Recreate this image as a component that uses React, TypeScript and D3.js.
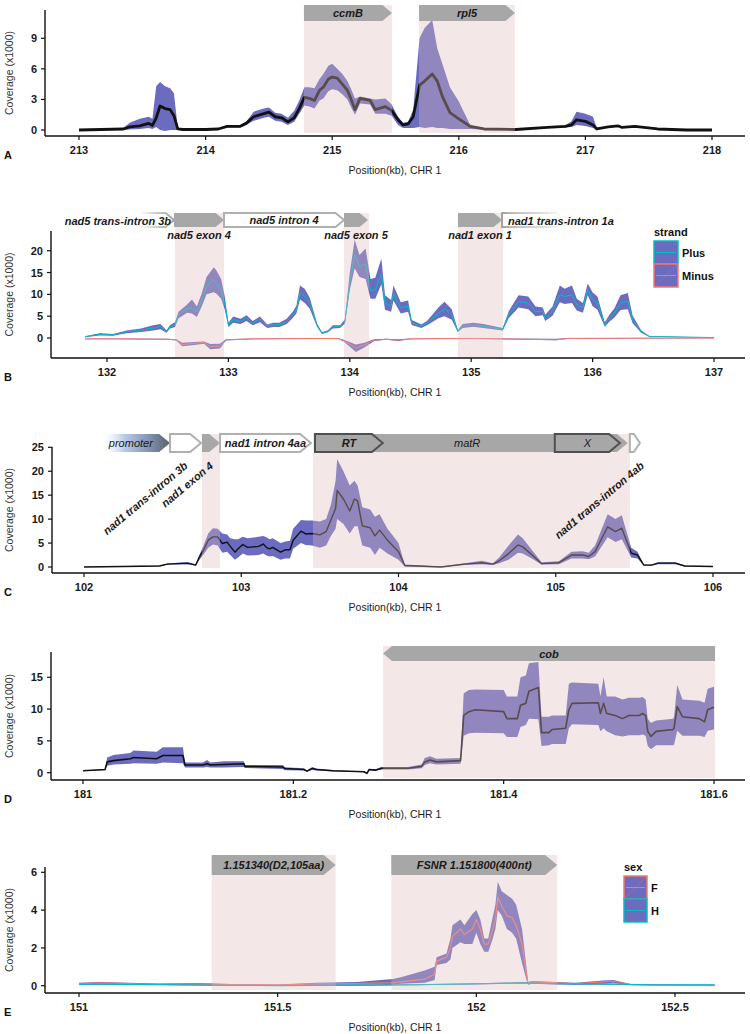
import React from 'react';
import * as d3 from 'd3';

const FONT = "'Liberation Sans', Arial, Helvetica, sans-serif";
const RIB = '#6b6bc0';
const HL = '#deb9b9';
const GRAY = '#a7a7a7';
const CYAN = '#00BFC4';
const SALMON = '#F8766D';

// ---------- Panel A ----------
const posA = [213.0, 213.35, 213.4, 213.48, 213.55, 213.58, 213.61, 213.64, 213.68, 213.72, 213.75, 213.78, 213.82, 214.0, 214.1, 214.17, 214.27, 214.32, 214.38, 214.46, 214.5, 214.55, 214.6, 214.65, 214.7, 214.74, 214.78, 214.82, 214.86, 214.9, 214.93, 214.97, 215.0, 215.04, 215.08, 215.12, 215.15, 215.18, 215.22, 215.3, 215.34, 215.42, 215.47, 215.52, 215.56, 215.6, 215.64, 215.69, 215.73, 215.79, 215.83, 215.87, 215.93, 216.0, 216.09, 216.2, 216.45, 216.7, 216.84, 216.89, 216.93, 217.0, 217.06, 217.09, 217.18, 217.26, 217.29, 217.39, 217.57, 217.8, 218.0];
const meanA = [0, 0.1, 0.3, 0.4, 0.65, 0.45, 1.2, 2.35, 2.1, 2.0, 1.4, 0.1, 0.05, 0.05, 0.1, 0.35, 0.35, 0.65, 1.3, 1.6, 1.75, 1.3, 1.2, 0.8, 1.2, 2.1, 3.2, 3.1, 2.9, 3.9, 4.2, 5.0, 5.2, 5.1, 4.5, 3.9, 3.0, 2.0, 3.1, 2.9, 2.0, 2.3, 1.9, 1.0, 0.5, 0.6, 1.3, 4.4, 4.8, 5.5, 4.8, 3.3, 1.7, 1.1, 0.35, 0.1, 0.05, 0.25, 0.35, 0.5, 1.0, 0.85, 0.5, 0.1, 0.3, 0.4, 0.25, 0.35, 0.1, 0.0, 0.0];
const hiA = [0, 0.2, 0.7, 1.1, 1.3, 1.1, 4.3, 4.7, 4.3, 4.1, 3.6, 0.2, 0.1, 0.1, 0.15, 0.45, 0.45, 0.8, 1.8, 2.1, 2.2, 1.7, 1.6, 1.2, 1.9, 2.9, 4.2, 4.2, 4.1, 5.0, 5.5, 6.3, 6.5, 6.0, 5.5, 4.8, 4.0, 3.1, 3.3, 3.1, 3.0, 3.1, 2.5, 1.3, 0.7, 0.8, 2.0, 9.0, 10.0, 10.8, 8.0, 6.5, 4.2, 2.8, 0.5, 0.15, 0.1, 0.3, 0.45, 0.85, 1.8, 1.6, 1.3, 0.2, 0.35, 0.45, 0.3, 0.4, 0.15, 0.05, 0.05];
const loA = [0, 0.0, 0.05, 0.1, 0.2, 0.1, 0.3, 0.0, -0.1, 0.0, 0.0, 0.0, 0.0, 0.0, 0.05, 0.25, 0.25, 0.5, 0.9, 1.2, 1.3, 0.9, 0.8, 0.5, 0.8, 1.6, 2.4, 2.3, 2.1, 2.9, 3.1, 3.8, 4.0, 3.9, 3.5, 3.0, 2.2, 1.5, 2.6, 2.5, 1.6, 1.6, 1.4, 0.5, 0.2, 0.2, 0.2, 0.3, 0.2, 0.3, 0.2, 0.2, 0.1, 0.1, 0.1, 0.05, 0.0, 0.2, 0.25, 0.3, 0.5, 0.4, 0.2, 0.05, 0.25, 0.35, 0.2, 0.3, 0.05, 0.0, 0.0];

// ---------- Panel B ----------
const posBp = [131.82, 131.94, 132.05, 132.16, 132.28, 132.38, 132.44, 132.49, 132.52, 132.56, 132.59, 132.66, 132.7, 132.74, 132.78, 132.82, 132.88, 132.9, 132.94, 132.97, 133.0, 133.04, 133.1, 133.15, 133.2, 133.26, 133.32, 133.37, 133.42, 133.48, 133.53, 133.56, 133.59, 133.63, 133.67, 133.73, 133.77, 133.82, 133.86, 133.92, 133.96, 134.0, 134.04, 134.08, 134.13, 134.17, 134.21, 134.26, 134.29, 134.34, 134.36, 134.42, 134.48, 134.51, 134.59, 134.64, 134.73, 134.78, 134.84, 134.89, 134.93, 135.02, 135.1, 135.26, 135.31, 135.39, 135.47, 135.53, 135.59, 135.61, 135.67, 135.73, 135.77, 135.83, 135.87, 135.92, 135.96, 136.0, 136.04, 136.1, 136.14, 136.18, 136.23, 136.29, 136.33, 136.4, 136.47, 136.6, 137.0];
const meanBp = [0.3, 0.9, 0.7, 1.4, 1.8, 2.3, 2.6, 1.5, 2.6, 3.0, 5.3, 6.8, 6.8, 6.0, 8.7, 11.8, 13.3, 12.6, 11.0, 8.0, 3.0, 4.2, 3.8, 4.6, 3.4, 4.3, 2.7, 3.0, 3.0, 3.8, 5.3, 6.5, 10.3, 9.5, 8.0, 3.0, 1.1, 1.5, 2.5, 2.6, 3.8, 12.6, 19.1, 16.4, 17.0, 10.9, 11.0, 14.8, 8.0, 7.3, 10.3, 6.9, 7.3, 3.5, 2.7, 3.5, 5.7, 6.6, 5.4, 1.6, 2.7, 3.0, 2.7, 2.0, 5.4, 8.4, 8.0, 6.1, 6.1, 4.6, 6.1, 9.9, 9.5, 9.9, 7.6, 6.9, 11.1, 8.8, 8.0, 3.1, 4.6, 5.7, 8.0, 8.4, 4.2, 1.5, 0.3, 0.3, 0.1];
const loBp = [0.2, 0.6, 0.5, 1.1, 1.4, 1.7, 2.0, 1.2, 2.2, 2.5, 4.5, 5.8, 5.6, 4.8, 7.2, 10.0, 10.5, 10.2, 9.0, 6.5, 2.5, 3.5, 3.2, 3.9, 2.9, 3.6, 2.3, 2.5, 2.5, 3.2, 4.6, 5.6, 8.8, 8.0, 6.7, 2.6, 0.9, 1.3, 2.2, 2.3, 3.3, 11.0, 16.0, 14.0, 13.5, 9.0, 9.0, 12.3, 6.5, 6.0, 8.6, 5.6, 6.0, 3.0, 2.3, 3.0, 4.5, 5.0, 4.2, 1.4, 2.3, 2.6, 2.3, 1.7, 4.6, 7.0, 6.6, 5.0, 5.2, 3.9, 5.1, 8.2, 7.8, 8.0, 6.3, 5.8, 9.8, 7.3, 6.5, 2.6, 3.8, 4.7, 6.4, 6.6, 3.4, 1.2, 0.25, 0.25, 0.1];
const hiBp = [0.4, 1.1, 0.9, 1.7, 2.2, 2.9, 3.2, 1.8, 3.0, 3.6, 6.0, 7.7, 8.8, 7.2, 10.2, 14.0, 16.2, 15.5, 13.5, 9.5, 3.5, 4.9, 4.4, 5.2, 3.9, 4.9, 3.1, 3.5, 3.5, 4.4, 6.0, 7.4, 12.0, 11.2, 9.2, 3.4, 1.3, 1.8, 2.9, 2.9, 4.3, 15.0, 22.5, 19.0, 20.5, 13.5, 13.8, 18.2, 9.8, 8.7, 12.0, 8.2, 8.6, 4.1, 3.1, 4.0, 7.0, 8.3, 6.6, 1.8, 3.2, 3.5, 3.2, 2.3, 6.2, 9.8, 9.5, 7.2, 7.0, 5.3, 7.2, 12.0, 11.3, 12.0, 9.0, 8.0, 12.5, 10.4, 9.5, 3.6, 5.4, 6.8, 9.8, 10.3, 5.1, 1.8, 0.4, 0.35, 0.1];
const posBm = [131.82, 132.1, 132.5, 132.57, 132.62, 132.72, 132.8, 132.85, 132.93, 132.98, 133.2, 133.9, 133.95, 134.05, 134.12, 134.2, 134.3, 134.4, 134.5, 135.0, 135.7, 135.8, 137.0];
const meanBm = [-0.2, -0.2, -0.3, -0.4, -1.5, -1.2, -1.0, -2.0, -1.8, -0.4, -0.2, -0.1, -0.6, -2.3, -1.6, -0.5, -0.3, -0.5, -0.2, -0.1, -0.4, -0.1, 0];
const loBm = [-0.3, -0.3, -0.4, -0.6, -1.9, -1.6, -1.3, -2.6, -2.4, -0.6, -0.3, -0.2, -0.8, -3.2, -2.2, -0.7, -0.4, -0.7, -0.3, -0.2, -0.5, -0.2, -0.05];
const hiBm = [-0.1, -0.1, -0.2, -0.3, -1.1, -0.9, -0.8, -1.4, -1.3, -0.3, -0.1, 0, -0.4, -1.5, -1.1, -0.3, -0.2, -0.3, -0.1, 0, -0.2, 0, 0.05];

// ---------- Panel C ----------
const posC = [102.0, 102.48, 102.53, 102.59, 102.66, 102.71, 102.74, 102.76, 102.79, 102.82, 102.85, 102.88, 102.91, 102.93, 102.96, 102.98, 103.01, 103.04, 103.11, 103.14, 103.16, 103.18, 103.2, 103.25, 103.28, 103.31, 103.33, 103.38, 103.41, 103.45, 103.5, 103.54, 103.57, 103.6, 103.61, 103.65, 103.69, 103.72, 103.74, 103.77, 103.82, 103.85, 103.88, 103.93, 104.0, 104.04, 104.27, 104.42, 104.53, 104.6, 104.64, 104.7, 104.76, 104.79, 104.85, 104.91, 105.02, 105.1, 105.17, 105.21, 105.25, 105.33, 105.38, 105.42, 105.48, 105.52, 105.56, 105.61, 105.65, 105.76, 105.82, 106.0];
const meanC = [0, 0.2, 0.6, 0.7, 0.8, 0.4, 2.5, 3.5, 5.6, 6.3, 6.3, 4.9, 5.2, 4.3, 3.1, 3.8, 4.7, 4.1, 4.3, 4.8, 4.1, 3.8, 4.1, 3.1, 3.6, 3.6, 5.6, 7.5, 6.9, 7.0, 6.7, 7.4, 9.8, 12.2, 16.0, 14.2, 11.7, 14.2, 13.8, 8.6, 8.2, 6.5, 7.7, 5.6, 3.2, 0.3, 0.0, 0.6, 0.9, 0.6, 1.3, 2.8, 4.6, 4.2, 2.5, 0.7, 0.9, 2.5, 2.5, 2.2, 3.2, 8.4, 7.4, 8.1, 2.9, 2.5, 0.4, 0.4, 0.8, 0.8, 0.2, 0.1];
const loC = [0, 0.15, 0.45, 0.5, 0.5, 0.3, 1.8, 2.6, 4.0, 4.7, 4.5, 3.0, 3.2, 2.5, 1.5, 2.0, 2.8, 2.4, 2.5, 2.8, 2.4, 2.2, 2.3, 1.5, 1.8, 1.8, 3.8, 5.0, 4.6, 4.5, 4.0, 4.5, 6.5, 8.0, 10.0, 9.0, 7.0, 8.5, 8.5, 4.5, 4.0, 2.5, 4.0, 2.8, 1.5, 0.1, 0, 0.4, 0.6, 0.4, 0.8, 1.5, 3.0, 2.8, 1.7, 0.5, 0.6, 1.8, 1.8, 1.6, 2.2, 6.2, 5.2, 5.8, 2.0, 1.8, 0.3, 0.3, 0.6, 0.6, 0.1, 0.05];
const hiC = [0.05, 0.3, 0.75, 0.9, 1.0, 0.6, 3.0, 4.5, 7.0, 8.1, 8.0, 7.0, 6.8, 6.0, 5.8, 5.8, 6.3, 6.0, 6.3, 6.5, 6.2, 5.8, 6.0, 5.0, 5.3, 5.5, 8.0, 9.8, 9.7, 9.7, 9.5, 10.0, 13.0, 18.0, 22.5, 20.0, 17.0, 18.0, 17.0, 12.5, 12.0, 10.5, 11.0, 8.0, 5.0, 0.5, 0.1, 0.8, 1.3, 0.8, 2.0, 4.5, 6.8, 6.0, 3.5, 1.0, 1.2, 3.2, 3.3, 3.0, 4.5, 11.0, 10.0, 10.8, 4.0, 3.2, 0.5, 0.5, 1.0, 1.0, 0.3, 0.15];

// ---------- Panel D ----------
const posD = [181.0, 181.021, 181.023, 181.029, 181.045, 181.048, 181.07, 181.076, 181.095, 181.097, 181.114, 181.118, 181.121, 181.134, 181.153, 181.154, 181.19, 181.192, 181.21, 181.213, 181.218, 181.222, 181.238, 181.267, 181.27, 181.272, 181.278, 181.284, 181.309, 181.322, 181.325, 181.33, 181.336, 181.359, 181.362, 181.367, 181.373, 181.4, 181.403, 181.413, 181.416, 181.421, 181.424, 181.433, 181.436, 181.443, 181.446, 181.459, 181.462, 181.465, 181.49, 181.492, 181.495, 181.498, 181.506, 181.513, 181.519, 181.529, 181.532, 181.535, 181.537, 181.54, 181.545, 181.561, 181.562, 181.565, 181.57, 181.586, 181.591, 181.594, 181.6];
const meanD = [0.3, 0.5, 1.7, 1.9, 2.2, 2.4, 2.2, 2.7, 2.7, 1.2, 1.2, 1.4, 1.2, 1.3, 1.4, 1.0, 0.9, 0.65, 0.5, 0.25, 0.65, 0.5, 0.3, 0.15, -0.1, 0.5, 0.4, 0.7, 0.7, 1.0, 1.7, 2.0, 1.7, 1.9, 9.0, 9.6, 9.9, 9.6, 8.5, 8.5, 10.6, 10.9, 12.8, 13.4, 6.3, 6.3, 6.8, 7.0, 9.9, 10.9, 11.0, 9.3, 10.9, 9.3, 9.0, 8.5, 9.0, 9.0, 9.3, 9.0, 6.5, 5.7, 6.5, 6.8, 7.0, 10.4, 8.8, 8.5, 8.0, 9.9, 10.3];
const loD = [0.25, 0.4, 1.1, 1.3, 1.4, 1.5, 1.4, 1.6, 1.5, 0.8, 0.8, 0.9, 0.8, 0.8, 0.9, 0.75, 0.6, 0.4, 0.35, 0.15, 0.45, 0.35, 0.2, 0.1, -0.15, 0.35, 0.3, 0.5, 0.5, 0.7, 1.2, 1.5, 1.3, 1.4, 5.8, 6.2, 6.3, 6.2, 5.6, 5.6, 7.2, 7.5, 8.5, 8.4, 4.2, 4.3, 4.5, 4.5, 7.0, 7.6, 7.5, 6.5, 7.0, 6.5, 5.9, 5.7, 5.9, 5.9, 6.0, 5.8, 4.2, 3.7, 4.3, 4.3, 4.4, 6.6, 5.8, 5.8, 5.6, 6.6, 6.8];
const hiD = [0.35, 0.55, 2.4, 2.8, 3.1, 3.5, 3.3, 4.0, 4.0, 1.6, 1.6, 2.0, 1.6, 1.8, 1.8, 1.2, 1.2, 0.85, 0.7, 0.35, 0.9, 0.65, 0.4, 0.2, 0.0, 0.6, 0.55, 0.9, 0.9, 1.3, 2.3, 2.6, 2.2, 2.3, 12.5, 13.0, 13.1, 13.0, 12.0, 12.0, 15.0, 15.3, 17.2, 17.4, 8.8, 8.8, 9.0, 9.0, 14.0, 14.2, 14.0, 12.0, 15.0, 12.0, 12.0, 11.5, 11.8, 11.8, 11.9, 11.5, 8.5, 7.8, 8.2, 8.5, 8.8, 13.8, 11.5, 11.3, 11.0, 13.2, 13.5];

// ---------- Panel E ----------
const posEF = [151.0, 151.05, 151.2, 151.3, 151.4, 151.5, 151.6, 151.7, 151.76, 151.79, 151.81, 151.87, 151.895, 151.9, 151.925, 151.935, 151.94, 151.96, 151.97, 151.99, 152.0, 152.01, 152.02, 152.03, 152.04, 152.048, 152.054, 152.064, 152.077, 152.09, 152.1, 152.115, 152.125, 152.13, 152.14, 152.2, 152.25, 152.32, 152.345, 152.39, 152.6];
const meanEF = [0.1, 0.15, 0.08, 0.1, 0.05, 0.03, 0.1, 0.12, 0.15, 0.15, 0.2, 0.35, 0.6, 1.3, 1.5, 2.0, 2.6, 3.0, 2.7, 3.0, 3.5, 3.0, 2.2, 2.2, 2.9, 3.5, 4.7, 4.2, 3.7, 3.6, 3.2, 2.2, 0.8, 0.12, 0.2, 0.15, 0.1, 0.2, 0.25, 0.05, 0.0];
const loEF = [0.05, 0.1, 0.04, 0.06, 0.02, 0.0, 0.05, 0.06, 0.08, 0.05, 0.1, 0.15, 0.3, 1.1, 1.2, 1.4, 2.0, 2.3, 2.2, 2.2, 2.8, 2.2, 1.8, 1.8, 2.4, 3.0, 4.0, 3.7, 3.0, 2.8, 2.5, 1.2, 0.4, 0.05, 0.1, 0.1, 0.05, 0.12, 0.15, 0.02, 0.0];
const hiEF = [0.15, 0.2, 0.12, 0.14, 0.08, 0.06, 0.15, 0.2, 0.3, 0.35, 0.45, 0.8, 1.0, 1.5, 1.7, 2.5, 3.2, 3.5, 3.2, 3.8, 4.0, 3.5, 2.5, 2.5, 3.5, 4.3, 5.5, 5.0, 4.8, 4.6, 4.3, 3.0, 1.2, 0.2, 0.25, 0.2, 0.15, 0.28, 0.3, 0.08, 0.02];
const posEH = [151.0, 151.2, 151.35, 151.5, 151.7, 151.85, 152.0, 152.12, 152.2, 152.35, 152.45, 152.6];
const meanEH = [0.08, 0.06, 0.02, 0.0, 0.03, 0.05, 0.1, 0.15, 0.1, 0.08, 0.05, 0.05];
const loEH = [0.05, 0.03, 0.0, -0.02, 0.0, 0.02, 0.07, 0.11, 0.07, 0.05, 0.03, 0.03];
const hiEH = [0.11, 0.09, 0.05, 0.02, 0.06, 0.08, 0.13, 0.19, 0.13, 0.11, 0.07, 0.07];

// ---------- genes ----------
const genesA = [
  { name: 'ccmB', start: 214.777, end: 215.472, dir: 1, kind: 'gray', lab: 'in' },
  { name: 'rpl5', start: 215.686, end: 216.444, dir: 1, kind: 'gray', lab: 'in' },
];
const genesB = [
  { name: 'nad5 trans-intron 3b', start: 132.27, end: 132.552, dir: 1, kind: 'fadeL', lab: 'inR' },
  { name: 'nad5 exon 4', start: 132.552, end: 132.964, dir: 1, kind: 'gray', lab: 'below' },
  { name: 'nad5 intron 4', start: 132.964, end: 133.952, dir: 1, kind: 'white', lab: 'in' },
  { name: 'nad5 exon 5', start: 133.952, end: 134.15, dir: 1, kind: 'gray', lab: 'below' },
  { name: 'nad1 exon 1', start: 134.891, end: 135.254, dir: 1, kind: 'gray', lab: 'below' },
  { name: 'nad1 trans-intron 1a', start: 135.254, end: 135.773, dir: 1, kind: 'fadeR', lab: 'inL' },
];
const genesC = [
  { name: 'promoter', start: 102.1, end: 102.547, dir: 1, kind: 'promoter', lab: 'in' },
  { name: 'nad1 trans-intron 3b', start: 102.547, end: 102.744, dir: 1, kind: 'white', lab: 'rot' },
  { name: 'nad1 exon 4', start: 102.75, end: 102.865, dir: 1, kind: 'gray', lab: 'rot' },
  { name: 'nad1 intron 4aa', start: 102.865, end: 103.443, dir: 1, kind: 'white', lab: 'in' },
  { name: 'matR', start: 103.469, end: 105.458, dir: 1, kind: 'gray', lab: 'in' },
  { name: 'RT', start: 103.469, end: 103.9, dir: 1, kind: 'dark', lab: 'in' },
  { name: 'X', start: 104.994, end: 105.408, dir: 1, kind: 'dark', lab: 'in' },
  { name: 'nad1 trans-intron 4ab', start: 105.471, end: 105.535, dir: 1, kind: 'white', lab: 'rot' },
];
const genesD = [{ name: 'cob', start: 181.2853, end: 181.601, dir: -1, kind: 'gray', lab: 'in' }];
const genesE = [
  { name: '1.151340(D2,105aa)', start: 151.334, end: 151.646, dir: 1, kind: 'gray', lab: 'in' },
  { name: 'FSNR 1.151800(400nt)', start: 151.786, end: 152.2035, dir: 1, kind: 'gray', lab: 'in' },
];
const hlA = [[214.777, 215.472], [215.686, 216.444]];
const hlB = [[132.56, 132.964], [133.952, 134.158], [134.891, 135.262]];
const hlC = [[102.75, 102.865], [103.456, 105.471]];
const hlD = [[181.2853, 181.601]];
const hlE = [[151.334, 151.646], [151.786, 152.2035]];

const ticksA = [213, 214, 215, 216, 217, 218];
const ticksB = [132, 133, 134, 135, 136, 137];
const ticksC = [102, 103, 104, 105, 106];
const ticksD = [181, 181.2, 181.4, 181.6];
const ticksE = [151, 151.5, 152, 152.5];

const panels = [
  { id: 'A', xd: [213, 218], xr: [79, 712], yd: [0, 9], yr: [130, 38.3], yAxisX: 45, top: 10, axisY: 136, xTicks: ticksA, yTicks: [0, 3, 6, 9], box: [5, 21], hlBottom: 133, genes: genesA, hl: hlA,
    series: [{ pos: posA, mean: meanA, lo: loA, hi: hiA, color: '#111', w: 2.8 }] },
  { id: 'B', xd: [132, 137], xr: [107, 714], yd: [0, 20], yr: [338, 250.7], yAxisX: 51, top: 231, axisY: 358, xTicks: ticksB, yTicks: [0, 5, 10, 15, 20], box: [213, 227], hlBottom: 357, genes: genesB, hl: hlB,
    series: [{ pos: posBp, mean: meanBp, lo: loBp, hi: hiBp, color: CYAN, w: 1 }, { pos: posBm, mean: meanBm, lo: loBm, hi: hiBm, color: SALMON, w: 1 }],
    legend: { title: 'strand', x: 654, y: 236, keys: [['Plus', CYAN], ['Minus', SALMON]], kh: 23, kw: 24 } },
  { id: 'C', xd: [102, 106], xr: [84, 713], yd: [0, 25], yr: [567, 447.3], yAxisX: 52, top: 447, axisY: 573, xTicks: ticksC, yTicks: [0, 5, 10, 15, 20, 25], box: [434, 452], hlBottom: 568, genes: genesC, hl: hlC,
    series: [{ pos: posC, mean: meanC, lo: loC, hi: hiC, color: '#111', w: 1.4 }] },
  { id: 'D', xd: [181, 181.6], xr: [83, 714], yd: [0, 15], yr: [772.7, 677.3], yAxisX: 51, top: 652, axisY: 780, xTicks: ticksD, yTicks: [0, 5, 10, 15], box: [646, 661], hlBottom: 778, genes: genesD, hl: hlD,
    series: [{ pos: posD, mean: meanD, lo: loD, hi: hiD, color: '#111', w: 1.6 }] },
  { id: 'E', xd: [151, 152.5], xr: [79, 675], yd: [0, 6], yr: [985.7, 872.3], yAxisX: 45, top: 867, axisY: 993, xTicks: ticksE, yTicks: [0, 2, 4, 6], box: [855, 875], hlBottom: 990, genes: genesE, hl: hlE,
    series: [{ pos: posEF, mean: meanEF, lo: loEF, hi: hiEF, color: SALMON, w: 1.1 }, { pos: posEH, mean: meanEH, lo: loEH, hi: hiEH, color: CYAN, w: 1.1 }],
    legend: { title: 'sex', x: 624, y: 871, keys: [['F', SALMON], ['H', CYAN]], kh: 23, kw: 23 } },
];

function arrowPath(x0: number, x1: number, y0: number, y1: number, dir: number, tip: number) {
  const m = (y0 + y1) / 2;
  if (dir > 0) return `M${x0},${y0}L${x1 - tip},${y0}L${x1},${m}L${x1 - tip},${y1}L${x0},${y1}Z`;
  return `M${x1},${y0}L${x0 + tip},${y0}L${x0},${m}L${x0 + tip},${y1}L${x1},${y1}Z`;
}

function Gene({ g, x, y0, y1, pid }: any) {
  const x0 = x(g.start), x1 = x(g.end);
  const h = y1 - y0;
  const tip = Math.min(h * 0.6, (x1 - x0) * 0.6);
  const d = arrowPath(x0, x1, y0, y1, g.dir, tip);
  const gid = `${pid}-${g.name.replace(/[^a-zA-Z0-9]/g, '')}`;
  let shape;
  if (g.kind === 'gray') shape = <path d={d} fill={GRAY} />;
  else if (g.kind === 'white') shape = <path d={d} fill="#fff" stroke="#b0b0b0" strokeWidth={2} />;
  else if (g.kind === 'dark') shape = <path d={d} fill={GRAY} stroke="#505050" strokeWidth={2} />;
  else if (g.kind === 'fadeL' || g.kind === 'fadeR') {
    const left = g.kind === 'fadeL';
    shape = (
      <g>
        <defs>
          <linearGradient id={gid} x1={x0} x2={x1} y1={0} y2={0} gradientUnits="userSpaceOnUse">
            <stop offset="0" stopColor="#a0a0a0" stopOpacity={left ? 0 : 1} />
            <stop offset={left ? '0.75' : '0.2'} stopColor="#b0b0b0" stopOpacity={left ? 0.9 : 0.8} />
            <stop offset="1" stopColor="#a0a0a0" stopOpacity={left ? 1 : 0} />
          </linearGradient>
        </defs>
        <path d={d} fill="#fff" stroke={`url(#${gid})`} strokeWidth={2} />
      </g>
    );
  } else if (g.kind === 'promoter') {
    shape = (
      <g>
        <defs>
          <linearGradient id={gid} x1={x0} x2={x1} y1={0} y2={0} gradientUnits="userSpaceOnUse">
            <stop offset="0" stopColor="#ffffff" stopOpacity={0} />
            <stop offset="0.35" stopColor="#b9cbea" stopOpacity={1} />
            <stop offset="0.75" stopColor="#7b8aa6" stopOpacity={1} />
            <stop offset="1" stopColor="#5a606c" stopOpacity={1} />
          </linearGradient>
        </defs>
        <path d={d} fill={`url(#${gid})`} />
      </g>
    );
  }
  const bold = !(g.name === 'promoter' || g.name === 'matR' || g.name === 'X');
  const common = { fontFamily: FONT, fontStyle: 'italic', fontWeight: bold ? 'bold' : 'normal', fontSize: 11, fill: '#1a1a1a' } as any;
  const my = (y0 + y1) / 2 + 4;
  let label = null;
  if (g.lab === 'in') {
    let cx = (x0 + x1) / 2;
    if (g.name === 'matR') cx = (x(104.0) + x(105.0)) / 2 - 10;
    if (g.name === 'promoter') cx = (x0 + x1) / 2 - 4;
    label = <text x={cx} y={my} textAnchor="middle" {...common}>{g.name}</text>;
  } else if (g.lab === 'below') {
    label = <text x={(x0 + x1) / 2} y={y1 + 12} textAnchor="middle" {...common}>{g.name}</text>;
  } else if (g.lab === 'inR') {
    label = <text x={x1 - 3} y={my + 1} textAnchor="end" {...common}>{g.name}</text>;
  } else if (g.lab === 'inL') {
    label = <text x={x0 + 6} y={my + 1} textAnchor="start" {...common}>{g.name}</text>;
  } else if (g.lab === 'rot') {
    const off = g.name === 'nad1 trans-intron 4ab' ? 10 : 3;
    const cx = (x0 + x1) / 2 + off;
    label = <text transform={`translate(${cx},${y1 + 15}) rotate(-40)`} textAnchor="end" {...common}>{g.name}</text>;
  }
  return <g>{shape}{label}</g>;
}

function Panel({ p }: any) {
  const x = d3.scaleLinear().domain(p.xd).range(p.xr);
  const y = d3.scaleLinear().domain(p.yd).range(p.yr);
  const xEnd = 745;
  const tickFont = { fontFamily: FONT, fontWeight: 'bold', fontSize: 11, fill: '#1a1a1a' } as any;
  const ribbons = p.series.map((s: any, k: number) => {
    const idx = d3.range(s.pos.length);
    const area = d3.area<number>().x((i) => x(s.pos[i])).y0((i) => y(s.lo[i])).y1((i) => y(s.hi[i]));
    return <path key={'r' + k} d={area(idx) || ''} fill={RIB} />;
  });
  const lines = p.series.map((s: any, k: number) => {
    const idx = d3.range(s.pos.length);
    const line = d3.line<number>().x((i) => x(s.pos[i])).y((i) => y(s.mean[i])).curve(d3.curveLinear);
    return <path key={'l' + k} d={line(idx) || ''} fill="none" stroke={s.color} strokeWidth={s.w} strokeLinejoin="round" />;
  });
  const midY = (p.top + p.axisY) / 2;
  return (
    <g>
      {ribbons}
      {lines}
      {p.hl.map((h: number[], i: number) => (
        <rect key={'h' + i} x={x(h[0])} y={p.box[0]} width={x(h[1]) - x(h[0])} height={p.hlBottom - p.box[0]} fill={HL} opacity={0.35} />
      ))}
      {p.genes.map((g: any, i: number) => (
        <Gene key={'g' + i} g={g} x={x} y0={p.box[0]} y1={p.box[1]} pid={p.id} />
      ))}
      <line x1={p.yAxisX} x2={p.yAxisX} y1={p.top} y2={p.axisY} stroke="#111" strokeWidth={1.4} />
      <line x1={p.yAxisX} x2={xEnd} y1={p.axisY} y2={p.axisY} stroke="#111" strokeWidth={1.4} />
      {p.yTicks.map((t: number) => (
        <g key={'yt' + t}>
          <line x1={p.yAxisX - 4} x2={p.yAxisX} y1={y(t)} y2={y(t)} stroke="#111" strokeWidth={1.2} />
          <text x={p.yAxisX - 8} y={y(t) + 4} textAnchor="end" {...tickFont}>{t}</text>
        </g>
      ))}
      {p.xTicks.map((t: number) => (
        <g key={'xt' + t}>
          <line x1={x(t)} x2={x(t)} y1={p.axisY} y2={p.axisY + 4} stroke="#111" strokeWidth={1.2} />
          <text x={x(t)} y={p.axisY + 18} textAnchor="middle" {...tickFont}>{String(t)}</text>
        </g>
      ))}
      <text transform={`translate(13,${midY}) rotate(-90)`} textAnchor="middle" fontFamily={FONT} fontSize={10.5} fill="#333">Coverage (x1000)</text>
      <text x={4} y={p.axisY + 23} fontFamily={FONT} fontWeight="bold" fontSize={11} fill="#111">{p.id}</text>
      <text x={395} y={p.axisY + 38} textAnchor="middle" fontFamily={FONT} fontSize={10.5} fill="#222">Position(kb), CHR 1</text>
      {p.legend && (
        <g>
          <text x={p.legend.x} y={p.legend.y} fontFamily={FONT} fontWeight="bold" fontSize={11} fill="#111">{p.legend.title}</text>
          {p.legend.keys.map((k: any, i: number) => {
            const ky = p.legend.y + 5 + i * p.legend.kh;
            const kx = p.legend.x;
            return (
              <g key={k[0]}>
                <rect x={kx} y={ky} width={p.legend.kw} height={p.legend.kh} fill={RIB} stroke={k[1]} strokeWidth={1.5} />
                <line x1={kx} y1={ky + p.legend.kh} x2={kx + p.legend.kw} y2={ky} stroke={k[1]} strokeWidth={0.5} opacity={0.6} />
                <line x1={kx + 2} y1={ky + p.legend.kh / 2} x2={kx + p.legend.kw - 2} y2={ky + p.legend.kh / 2} stroke={k[1]} strokeWidth={1} />
                <text x={kx + p.legend.kw + 4} y={ky + p.legend.kh / 2 + 4} fontFamily={FONT} fontWeight="bold" fontSize={11} fill="#111">{k[0]}</text>
              </g>
            );
          })}
        </g>
      )}
    </g>
  );
}

export default function App() {
  return (
    <svg width={750} height={1034} viewBox="0 0 750 1034" style={{ position: 'absolute', left: 0, top: 0, background: '#fff' }}>
      <rect x={0} y={0} width={750} height={1034} fill="#fff" />
      {panels.map((p) => <Panel key={p.id} p={p} />)}
    </svg>
  );
}
